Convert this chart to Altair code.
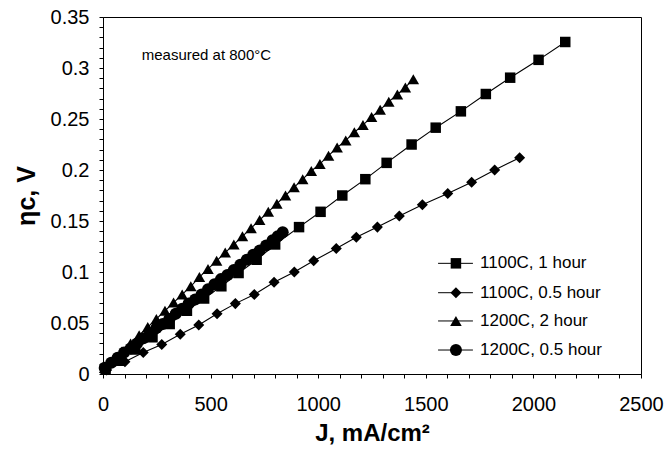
import altair as alt
import pandas as pd

# ---- data ----
series_names = ["1100C, 1 hour", "1100C, 0.5 hour", "1200C, 2 hour", "1200C, 0.5 hour"]

sq_J = [12, 75, 150, 230, 310, 390, 470, 550, 630, 714, 800, 911, 1011, 1112, 1219, 1318, 1434, 1546, 1663, 1779, 1892, 2024, 2148]
sq_eta = [0.005, 0.013, 0.024, 0.036, 0.049, 0.062, 0.074, 0.086, 0.099, 0.112, 0.127, 0.144, 0.159, 0.175, 0.191, 0.207, 0.225, 0.2415, 0.2575, 0.2745, 0.2905, 0.308, 0.3255]

dm_J = [17, 102, 187, 273, 359, 445, 530, 615, 703, 795, 889, 979, 1084, 1177, 1275, 1377, 1484, 1602, 1713, 1820, 1936]
dm_eta = [0.004, 0.012, 0.021, 0.029, 0.039, 0.048, 0.059, 0.069, 0.078, 0.090, 0.100, 0.111, 0.123, 0.134, 0.144, 0.155, 0.166, 0.177, 0.188, 0.200, 0.212]

tr_J = [8, 48, 88, 128, 168, 208, 248, 288, 328, 368, 408, 448, 488, 528, 568, 608, 648, 688, 728, 768, 808, 848, 888, 928, 968, 1008, 1048, 1088, 1128, 1168, 1208, 1248, 1288, 1328, 1368, 1405, 1442]
tr_eta = [0.006, 0.014, 0.022, 0.030, 0.038, 0.046, 0.054, 0.062, 0.070, 0.078, 0.086, 0.095, 0.103, 0.111, 0.119, 0.127, 0.135, 0.143, 0.151, 0.159, 0.167, 0.175, 0.183, 0.191, 0.199, 0.206, 0.214, 0.222, 0.229, 0.237, 0.244, 0.252, 0.259, 0.267, 0.274, 0.281, 0.289]

ci_J = [8, 38, 68, 98, 128, 158, 188, 218, 248, 278, 308, 338, 368, 398, 428, 458, 488, 518, 548, 578, 608, 638, 668, 698, 728, 758, 788, 812, 835]
ci_eta = [0.006, 0.011, 0.016, 0.021, 0.025, 0.030, 0.035, 0.040, 0.045, 0.049, 0.054, 0.059, 0.064, 0.069, 0.073, 0.078, 0.083, 0.088, 0.093, 0.097, 0.102, 0.107, 0.112, 0.117, 0.121, 0.126, 0.131, 0.135, 0.139]

annotation_text = ["measured at 800°C"]
x_ticks = list(range(0, 2600, 100))
y_ticks = [round(i * 0.01, 2) for i in range(36)]

# ---- build table ----
rows = []
for name, js, es in zip(series_names, [sq_J, dm_J, tr_J, ci_J], [sq_eta, dm_eta, tr_eta, ci_eta]):
    for j, e in zip(js, es):
        rows.append({"series": name, "J": j, "eta": e})
df = pd.DataFrame(rows)

FONT = "Liberation Sans"
shape_scale = alt.Scale(domain=series_names, range=["square", "diamond", "triangle-up", "circle"])
size_scale = alt.Scale(domain=series_names, range=[110, 145, 140, 110])

xscale = alt.Scale(domain=[0, 2500], nice=False, zero=False)
yscale = alt.Scale(domain=[0, 0.35], nice=False, zero=False)

x_axis = alt.Axis(
    values=x_ticks,
    labelExpr="datum.value % 500 == 0 ? format(datum.value, 'd') : ''",
    labelOverlap=False, labelBound=False, labelFlush=False, grid=False, tickSize=4, labelPadding=16,
    labelFontSize=20, labelFont=FONT, labelColor="black",
    title="J, mA/cm²", titleFont=FONT, titleFontSize=24, titleFontWeight="bold",
    titleColor="black", titlePadding=7,
    domainColor="black", tickColor="black",
)
y_axis = alt.Axis(
    values=y_ticks,
    labelExpr="abs(datum.value * 20 - round(datum.value * 20)) < 0.000001 ? format(datum.value, '~g') : ''",
    labelOverlap=False, labelBound=False, labelFlush=False, grid=False, tickSize=4, labelPadding=10,
    labelFontSize=20, labelFont=FONT, labelColor="black",
    title="ηc, V", titleFont=FONT, titleFontSize=25, titleFontWeight="bold",
    titleColor="black", titlePadding=11,
    domainColor="black", tickColor="black",
)

base = alt.Chart(df)
lines = base.mark_line(color="black", strokeWidth=1.1).encode(
    x=alt.X("J:Q", scale=xscale, axis=x_axis),
    y=alt.Y("eta:Q", scale=yscale, axis=y_axis),
    detail="series:N",
)
points = base.mark_point(filled=True, color="black", opacity=1).encode(
    x=alt.X("J:Q", scale=xscale, axis=x_axis),
    y=alt.Y("eta:Q", scale=yscale, axis=y_axis),
    shape=alt.Shape("series:N", scale=shape_scale, legend=None),
    size=alt.Size("series:N", scale=size_scale, legend=None),
)

# ---- annotation ----
ann_df = pd.DataFrame({"J": [180], "eta": [0.313], "label": annotation_text})
ann = alt.Chart(ann_df).mark_text(align="left", baseline="middle", font=FONT, fontSize=15, color="black").encode(
    x=alt.X("J:Q", scale=xscale, axis=x_axis), y=alt.Y("eta:Q", scale=yscale, axis=y_axis), text="label:N"
)

# ---- legend inside the plot (positions in data units) ----
leg_eta = [0.1085, 0.0797, 0.052, 0.0235]
leg_df = pd.DataFrame({"series": series_names, "eta": leg_eta,
                       "x0": [1557] * 4, "x1": [1719] * 4, "xm": [1640] * 4, "xt": [1752] * 4})
leg_base = alt.Chart(leg_df)
leg_rules = leg_base.mark_rule(color="black", strokeWidth=1).encode(
    x=alt.X("x0:Q", scale=xscale, axis=x_axis), x2="x1:Q", y=alt.Y("eta:Q", scale=yscale, axis=y_axis)
)
leg_pts = leg_base.mark_point(filled=True, color="black", opacity=1).encode(
    x=alt.X("xm:Q", scale=xscale, axis=x_axis), y=alt.Y("eta:Q", scale=yscale, axis=y_axis),
    shape=alt.Shape("series:N", scale=shape_scale, legend=None),
    size=alt.Size("series:N", scale=size_scale, legend=None),
)
leg_txt = leg_base.mark_text(align="left", baseline="middle", font=FONT, fontSize=17, color="black").encode(
    x=alt.X("xt:Q", scale=xscale, axis=x_axis), y=alt.Y("eta:Q", scale=yscale, axis=y_axis), text="series:N"
)

chart = alt.layer(lines, points, ann, leg_rules, leg_pts, leg_txt).properties(
    width=538, height=357,
    autosize=alt.AutoSizeParams(type="none"),
    padding={"left": 103, "top": 17, "right": 25, "bottom": 80},
    background="white",
).configure_view(stroke="black", strokeWidth=1).configure_axis(labelOverlap=False)

chart.save("out.html", embed_options={"renderer": "svg", "actions": False})
